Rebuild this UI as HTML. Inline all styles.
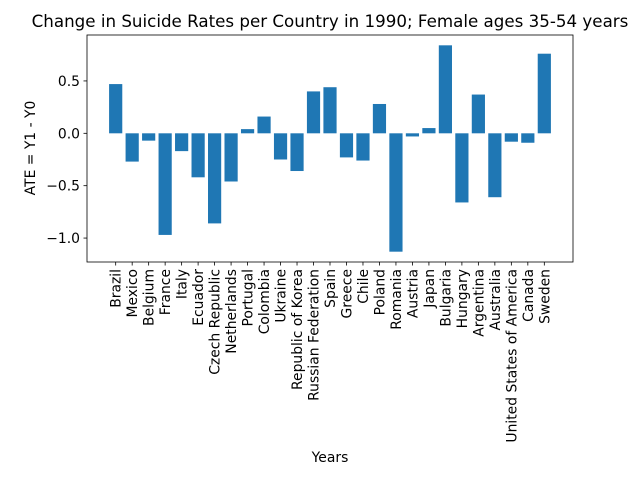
<!DOCTYPE html>
<html><head><meta charset="utf-8"><style>
body{margin:0;background:#fff;font-family:"Liberation Sans","DejaVu Sans",sans-serif;}
svg text{font-family:"DejaVu Sans","Liberation Sans",sans-serif;fill:#000;}
</style></head><body>
<svg id="chart" width="640" height="480" xmlns="http://www.w3.org/2000/svg">
<rect width="640" height="480" fill="#fff"/>
<text x="330" y="27" font-size="16.7" text-anchor="middle">Change in Suicide Rates per Country in 1990; Female ages 35-54 years</text>
<g id="bars"></g>
<g id="axes"></g>
<rect x="87" y="35" width="486" height="227" fill="none" stroke="#000" stroke-width="0.8"/>
<text x="330" y="462" font-size="13.9" text-anchor="middle">Years</text>
<text transform="translate(35,148) rotate(-90)" font-size="13.9" text-anchor="middle">ATE = Y1 - Y0</text>
</svg>
<script>
const countries=["Brazil","Mexico","Belgium","France","Italy","Ecuador","Czech Republic","Netherlands","Portugal","Colombia","Ukraine","Republic of Korea","Russian Federation","Spain","Greece","Chile","Poland","Romania","Austria","Japan","Bulgaria","Hungary","Argentina","Australia","United States of America","Canada","Sweden"];
const values=[0.47,-0.27,-0.07,-0.97,-0.17,-0.42,-0.86,-0.46,0.04,0.16,-0.25,-0.36,0.40,0.44,-0.23,-0.26,0.28,-1.13,-0.03,0.05,0.84,-0.66,0.37,-0.61,-0.08,-0.09,0.76];
const yTicks=[-1.0,-0.5,0.0,0.5];
const yTickLabels=["\u22121.0","\u22120.5","0.0","0.5"];
const NS="http://www.w3.org/2000/svg";
const L=87,R=573,T=35,B=262;
const n=countries.length;
const xmin=-0.4-(n-0.2)*0.05,xmax=n-1+0.4+(n-0.2)*0.05;
const vmin=Math.min(...values,0),vmax=Math.max(...values,0),pad=(vmax-vmin)*0.05;
const ymin=vmin-pad,ymax=vmax+pad;
const x=i=>L+(i-xmin)/(xmax-xmin)*(R-L);
const y=v=>B-(v-ymin)/(ymax-ymin)*(B-T);
const bw=0.8*(R-L)/(xmax-xmin);
const bars=document.getElementById('bars'),axes=document.getElementById('axes');
function mk(tag,attrs,parent){const e=document.createElementNS(NS,tag);for(const k in attrs)e.setAttribute(k,attrs[k]);parent.appendChild(e);return e;}
values.forEach((v,i)=>{
  const r=mk('rect',{x:x(i)-bw/2,y:Math.min(y(v),y(0)),width:bw,height:Math.abs(y(v)-y(0)),fill:'#1f77b4'},bars);
  
  
  const t=mk('line',{x1:x(i),x2:x(i),y1:B,y2:B+3.5,stroke:'#000','stroke-width':0.8},axes);
  
  
  const lb=mk('text',{transform:`translate(${x(i)+5},${B+7}) rotate(-90)`,'font-size':13.9,'text-anchor':'end'},axes);
  lb.textContent=countries[i];
  
  
});
yTicks.forEach((v,j)=>{
  const t=mk('line',{x1:L-3.5,x2:L,y1:y(v),y2:y(v),stroke:'#000','stroke-width':0.8},axes);
  
  
  const lb=mk('text',{x:L-7,y:y(v)+5,'font-size':13.9,'text-anchor':'end'},axes);
  lb.textContent=yTickLabels[j];
  
  
});
</script>
</body></html>
